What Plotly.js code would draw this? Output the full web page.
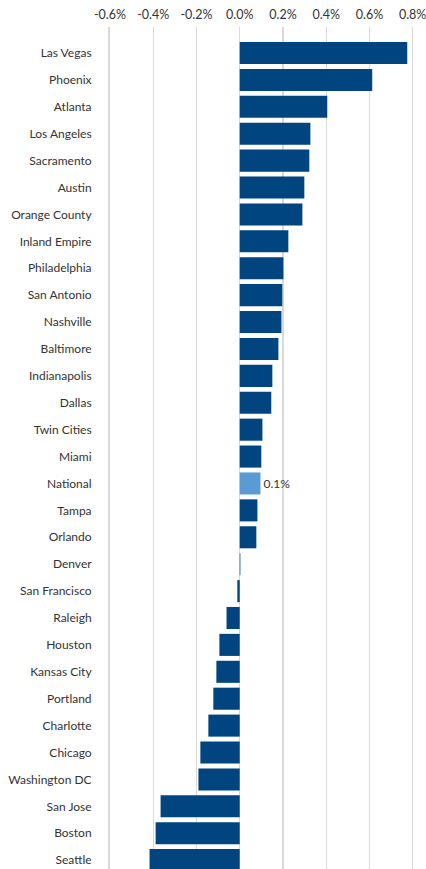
<!DOCTYPE html>
<html>
<head>
<meta charset="utf-8">
<script src="https://cdn.plot.ly/plotly-3.0.1.min.js"></script>
<style>html,body{margin:0;padding:0;background:#fff;}#chart{width:426px;height:869px;}</style>
</head>
<body>
<div id="chart"></div>
<script>
const metros = ["Las Vegas","Phoenix","Atlanta","Los Angeles","Sacramento","Austin","Orange County","Inland Empire","Philadelphia","San Antonio","Nashville","Baltimore","Indianapolis","Dallas","Twin Cities","Miami","National","Tampa","Orlando","Denver","San Francisco","Raleigh","Houston","Kansas City","Portland","Charlotte","Chicago","Washington DC","San Jose","Boston","Seattle"];
const changePct = [0.775,0.613,0.405,0.327,0.322,0.299,0.290,0.225,0.202,0.197,0.193,0.179,0.151,0.146,0.105,0.100,0.096,0.082,0.077,0.003,-0.011,-0.061,-0.094,-0.108,-0.122,-0.145,-0.182,-0.191,-0.366,-0.389,-0.417];
const highlight = "National";
const xTicks = [-0.6,-0.4,-0.2,0.0,0.2,0.4,0.6,0.8];

const colors = metros.map(m => m === highlight ? "#5b9bd5" : "#00457f");
const labels = metros.map((m,i) => m === highlight ? changePct[i].toFixed(1) + "%" : "");

const trace = {
  type: "bar",
  orientation: "h",
  y: metros,
  x: changePct,
  marker: {color: colors},
  text: labels,
  textposition: "outside",
  cliponaxis: false,
  textfont: {family: "Lato, sans-serif", size: 12, color: "#333"},
  hoverinfo: "none"
};

const layout = {
  width: 426, height: 869,
  margin: {l: 110, r: 6, t: 27, b: 0},
  paper_bgcolor: "#fff", plot_bgcolor: "#fff",
  bargap: 0.18,
  showlegend: false,
  font: {family: "Lato, sans-serif", size: 12, color: "#333"},
  xaxis: {
    side: "top",
    range: [-0.6, 0.834],
    tickvals: xTicks,
    ticktext: xTicks.map(v => v.toFixed(1) + "%"),
    ticklabeloverflow: "allow",
    showgrid: true, gridcolor: "#d9d9d9", gridwidth: 1.3,
    zeroline: true, zerolinecolor: "#d9d9d9", zerolinewidth: 1.3,
    showline: false,
    ticks: "outside", ticklen: 2, tickcolor: "rgba(0,0,0,0)",
    tickfont: {size: 12.5, color: "#333"},
    fixedrange: true
  },
  yaxis: {
    type: "category",
    range: [30.33, -0.967],
    showgrid: false, zeroline: false,
    showline: true, linecolor: "#d9d9d9", linewidth: 2,
    ticks: "outside", ticklen: 14, tickcolor: "rgba(0,0,0,0)",
    tickfont: {size: 12, color: "#333"},
    fixedrange: true
  }
};

Plotly.newPlot("chart", [trace], layout, {displayModeBar: false, staticPlot: true});
</script>
</body>
</html>
